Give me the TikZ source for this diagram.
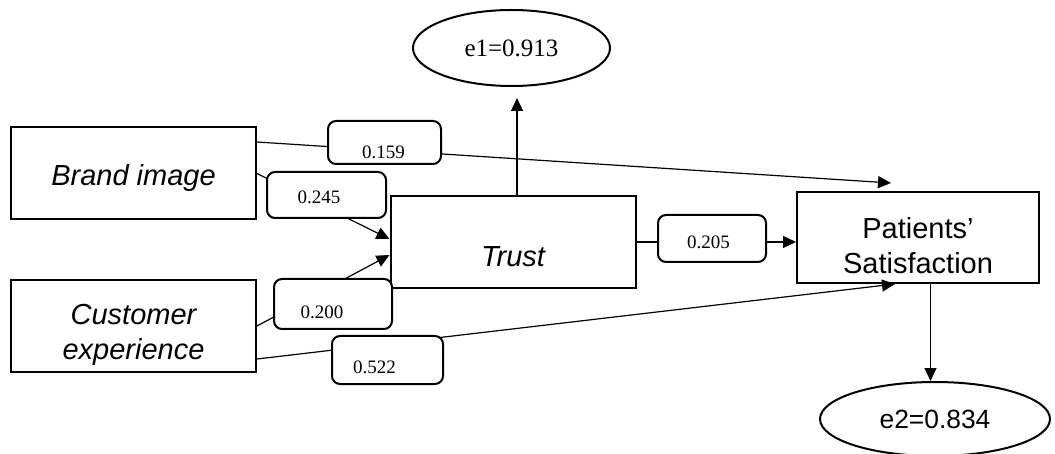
\documentclass[tikz,border=0pt]{standalone}
\usepackage{fontspec}
\setmainfont{Liberation Serif}
\setsansfont{Liberation Sans}
\usetikzlibrary{shapes.geometric}
\usetikzlibrary{arrows.meta}

\begin{document}
\begin{tikzpicture}[x=1pt,y=-1pt,
  var/.style={draw,line width=2pt,minimum width=245pt,minimum height=92pt},
  vtext/.style={align=center,inner sep=0pt,font=\sffamily\fontsize{29}{35}\selectfont},
  err/.style={ellipse,draw,line width=2pt,inner sep=0pt},
  coef/.style 2 args={draw,fill=white,line width=2pt,rounded corners=8pt,
    minimum width=#1,minimum height=#2},
  num/.style={inner sep=0pt,font=\fontsize{19}{21}\selectfont},
  link/.style={line width=1.2pt,-{Triangle[length=13pt,width=12pt]}}]
  \useasboundingbox (0,0) rectangle (1055,454);

  \node[var,label={[vtext,shift={(0,5)}]center:\itshape Brand image}] (bi) at (133.5,173.5) {};
  \node[var,label={[vtext,shift={(0,9)}]center:\itshape Customer\\\itshape experience}] (ce) at (133.5,326) {};
  \node[var,label={[vtext,shift={(0,15)}]center:\itshape Trust}] (tr) at (513,242) {};
  \node[var,minimum width=242pt,minimum height=91pt,
    label={[vtext,shift={(0,8)}]center:Patients'\\Satisfaction}] (ps) at (918,237.5) {};
  \node[err,minimum width=197pt,minimum height=76pt,font=\fontsize{25}{28}\selectfont] (e1) at (511.5,48) {e1=0.913};
  \node[err,minimum width=230pt,minimum height=74pt,font=\sffamily\fontsize{26.4}{30}\selectfont] (e2) at (935,419) {e2=0.834};

  \coordinate (p2) at ([xshift=12.5pt]ps.south);
  \draw[link] ([yshift=31.5pt]bi.east) -- ([xshift=-27pt,yshift=8pt]ps.north);
  \draw[link] (bi.east) -- ([yshift=3pt]tr.west);
  \draw[link] (ce.east) -- ([yshift=-13pt]tr.west);
  \draw[link] ([yshift=-33pt]ce.east) -- ([xshift=-23pt]ps.south);
  \draw[link] (tr.east) -- (tr.east -| ps.west);
  \draw[link] ([xshift=4pt]tr.north) -- ([xshift=5.5pt,yshift=-11pt]e1.south);
  \draw[link] (p2) -- (p2 |- e2.north);

  % path coefficients
  \node[coef={113pt}{43pt},label={[num,shift={(-1,9.5)}]center:0.159}] (c159) at (384.5,142.5) {};
  \node[coef={119pt}{46pt},label={[num,shift={(-7.5,2)}]center:0.245}] (c245) at (326.5,195) {};
  \node[coef={118pt}{50pt},label={[num,shift={(-11,8)}]center:0.200}] (c200) at (333,304) {};
  \node[coef={111pt}{48pt},label={[num,shift={(-13,7)}]center:0.522}] (c522) at (387.5,360) {};
  \node[coef={108pt}{47pt},label={[num,shift={(-3.5,3.5)}]center:0.205}] (c205) at (712,238.5) {};
\end{tikzpicture}
\end{document}
